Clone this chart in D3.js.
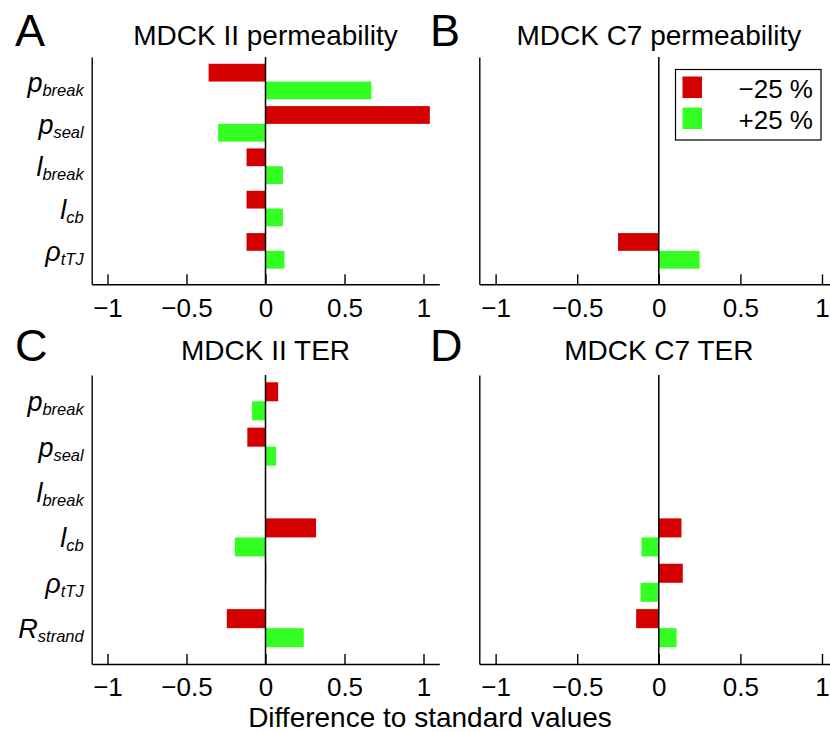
<!DOCTYPE html>
<html>
<head>
<meta charset="utf-8">
<script src="https://cdn.jsdelivr.net/npm/d3@7"></script>
<style>
  body { margin: 0; background: #fff; }
  svg { font-family: "Liberation Sans", Arial, sans-serif; }
</style>
</head>
<body>
<div id="chart"></div>
<script>
// parameter labels: [main, subscript]
const permLabels = [["p", "break"], ["p", "seal"], ["l", "break"], ["l", "cb"], ["ρ", "tTJ"]];
const terLabels = [["p", "break"], ["p", "seal"], ["l", "break"], ["l", "cb"], ["ρ", "tTJ"], ["R", "strand"]];

// difference to standard values, -25 % and +25 % of each parameter
const mdck2PermMinus = [-0.36, 1.04, -0.12, -0.12, -0.12];
const mdck2PermPlus = [0.67, -0.30, 0.11, 0.11, 0.12];
const c7PermMinus = [0, 0, 0, 0, -0.25];
const c7PermPlus = [0, 0, 0, 0, 0.25];
const mdck2TerMinus = [0.08, -0.115, 0, 0.32, 0.005, -0.245];
const mdck2TerPlus = [-0.085, 0.067, 0, -0.194, 0, 0.242];
const c7TerMinus = [0, 0, 0, 0.139, 0.147, -0.139];
const c7TerPlus = [0, 0, 0, -0.106, -0.112, 0.109];

const xTicks = [-1, -0.5, 0, 0.5, 1];
const legendLabels = ["−25 %", "+25 %"];
const colors = ["#d40000", "#33ff22"];

const W = 830, H = 732;
const svg = d3.select("#chart").append("svg")
  .attr("width", W).attr("height", H)
  .attr("viewBox", [0, 0, W, H]);

const fmt = d => d < 0 ? "−" + Math.abs(d) : String(d);

function Panel({
  letter, title, labels, minus, plus,
  left, right, top, bottom,
  letterX = 15, letterY = 46, titleY = 45,
  showLabels = true, legend = false,
}) {
  const n = labels.length;
  const x = d3.scaleLinear().domain([-1.1, 1.1]).range([left, right]);
  const y = d3.scaleLinear().domain([0.42, n + 0.79]).range([top, bottom]);
  const step = y(2) - y(1);
  const barH = 0.42 * step;
  const g = svg.append("g");

  // bars
  const rows = labels.map((l, i) => ({ i: i + 1, m: minus[i], p: plus[i] }));
  g.append("g").selectAll("rect.minus").data(rows).join("rect")
    .attr("x", d => x(Math.min(0, d.m)))
    .attr("width", d => Math.abs(x(d.m) - x(0)))
    .attr("y", d => y(d.i) - barH)
    .attr("height", barH)
    .attr("fill", colors[0]);
  g.append("g").selectAll("rect.plus").data(rows).join("rect")
    .attr("x", d => x(Math.min(0, d.p)))
    .attr("width", d => Math.abs(x(d.p) - x(0)))
    .attr("y", d => y(d.i))
    .attr("height", barH)
    .attr("fill", colors[1]);

  // zero line
  g.append("line")
    .attr("x1", x(0)).attr("x2", x(0))
    .attr("y1", top).attr("y2", bottom)
    .attr("stroke", "#000").attr("stroke-width", 1.5);

  // x axis, ticks pointing inward
  const xa = g.append("g")
    .attr("transform", `translate(0,${bottom})`)
    .call(d3.axisBottom(x).tickValues(xTicks).tickFormat(fmt)
      .tickSizeInner(-10).tickSizeOuter(0).tickPadding(14));
  xa.select(".domain").attr("stroke-width", 1.4);
  xa.selectAll(".tick line").attr("stroke-width", 1.4);
  xa.selectAll("text").attr("font-size", 26).attr("fill", "#000");

  // y axis line only
  g.append("g")
    .attr("transform", `translate(${left},0)`)
    .call(d3.axisLeft(y).tickValues([]).tickSizeOuter(0))
    .select(".domain").attr("stroke-width", 1.4);

  if (showLabels) {
    const t = g.append("g").selectAll("text").data(labels).join("text")
      .attr("x", left - 8)
      .attr("y", (d, i) => y(i + 1) + 10)
      .attr("text-anchor", "end")
      .attr("font-style", "italic")
      .attr("font-size", 27);
    t.append("tspan").text(d => d[0]);
    t.append("tspan").attr("font-size", 16.5).attr("dy", 4).text(d => d[1]);
  }

  g.append("text")
    .attr("x", x(0)).attr("y", titleY)
    .attr("text-anchor", "middle")
    .attr("font-size", 28)
    .text(title);

  g.append("text")
    .attr("x", letterX).attr("y", letterY)
    .attr("font-size", 45)
    .text(letter);

  if (legend) {
    const lg = g.append("g");
    lg.append("rect")
      .attr("x", 675.5).attr("y", 69.5).attr("width", 145.5).attr("height", 70.5)
      .attr("fill", "#fff").attr("stroke", "#000").attr("stroke-width", 1.2);
    legendLabels.forEach((lab, i) => {
      lg.append("rect")
        .attr("x", 682.5).attr("y", 76.5 + i * 31)
        .attr("width", 19.5).attr("height", 21.5)
        .attr("fill", colors[i]);
      lg.append("text")
        .attr("x", 813).attr("y", 98.3 + i * 31)
        .attr("text-anchor", "end")
        .attr("font-size", 26)
        .text(lab);
    });
  }
}

Panel({ letter: "A", title: "MDCK II permeability", labels: permLabels,
  minus: mdck2PermMinus, plus: mdck2PermPlus,
  left: 91.7, right: 439.3, top: 57, bottom: 284.3 });
Panel({ letter: "B", title: "MDCK C7 permeability", labels: permLabels,
  minus: c7PermMinus, plus: c7PermPlus,
  left: 479.3, right: 838.3, top: 57, bottom: 284.3,
  letterX: 430, showLabels: false, legend: true });
Panel({ letter: "C", title: "MDCK II TER", labels: terLabels,
  minus: mdck2TerMinus, plus: mdck2TerPlus,
  left: 91.7, right: 439.3, top: 375, bottom: 664,
  letterY: 361, titleY: 360 });
Panel({ letter: "D", title: "MDCK C7 TER", labels: terLabels,
  minus: c7TerMinus, plus: c7TerPlus,
  left: 479.3, right: 838.3, top: 375, bottom: 664,
  letterX: 430, letterY: 361, titleY: 360, showLabels: false });

svg.append("text")
  .attr("x", 430).attr("y", 727)
  .attr("text-anchor", "middle")
  .attr("font-size", 28)
  .text("Difference to standard values");
</script>
</body>
</html>
